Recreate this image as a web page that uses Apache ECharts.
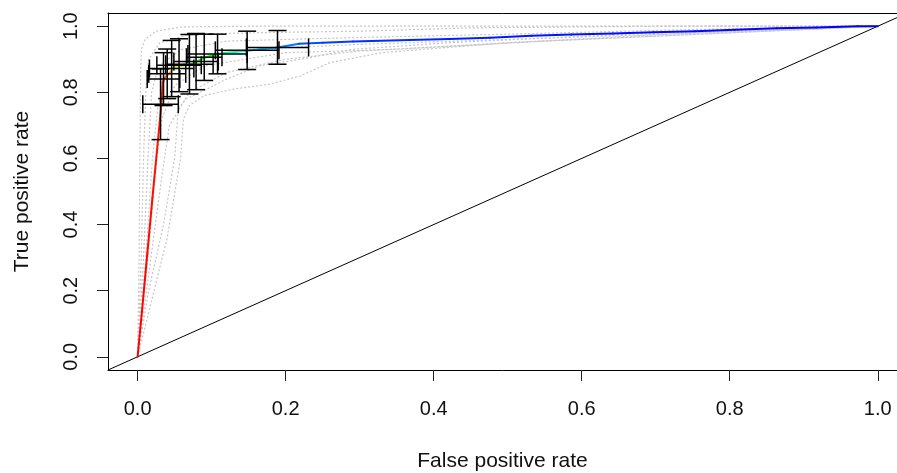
<!DOCTYPE html>
<html>
<head>
<meta charset="utf-8">
<script src="https://cdn.jsdelivr.net/npm/echarts@6/dist/echarts.min.js"></script>
<style>
  html, body { margin: 0; padding: 0; background: #fff; }
  #roc { width: 897px; height: 473px; }
</style>
</head>
<body>
<div id="roc"></div>
<script>
// axis ticks (R style, range padded by 4%; the plot is cut off at the right)
const xTicks = [0, 0.2, 0.4, 0.6, 0.8, 1.0];
const yTicks = [0, 0.2, 0.4, 0.6, 0.8, 1.0];
const xRange = [-0.04, 1.026];
const yRange = [-0.04, 1.04];

// averaged ROC curve (threshold averaging) + cutoff used for colouring
const avgFpr = [0, 0.006, 0.013, 0.02, 0.026, 0.029, 0.032, 0.034, 0.036, 0.040, 0.045, 0.047, 0.051, 0.056,
  0.070, 0.079, 0.088, 0.104, 0.120, 0.135, 0.147, 0.165, 0.187, 0.218, 0.250, 0.291, 0.367, 0.421, 0.476,
  0.532, 0.586, 0.642, 0.697, 0.753, 0.807, 0.863, 0.917, 0.973, 1.0];
const avgTpr = [0, 0.14, 0.31, 0.48, 0.62, 0.69, 0.76, 0.83, 0.842, 0.852, 0.862, 0.870, 0.876, 0.880,
  0.884, 0.892, 0.903, 0.914, 0.920, 0.923, 0.925, 0.930, 0.935, 0.947, 0.950, 0.954, 0.958, 0.961, 0.965,
  0.971, 0.975, 0.978, 0.982, 0.985, 0.989, 0.994, 0.996, 1.0, 1.0];
const avgCutoff = [1.0, 0.995, 0.99, 0.985, 0.98, 0.975, 0.97, 0.96, 0.92, 0.87, 0.82, 0.77, 0.72, 0.65,
  0.58, 0.53, 0.49, 0.42, 0.32, 0.26, 0.21, 0.17, 0.12, 0.08, 0.06, 0.045, 0.035, 0.03, 0.025,
  0.02, 0.016, 0.012, 0.009, 0.006, 0.004, 0.002, 0.001, 0.0005, 0];

// error bars (mean +/- sd) at selected cutoffs
const barFpr   = [0.031, 0.035, 0.040, 0.046, 0.056, 0.070, 0.079, 0.090, 0.108, 0.148, 0.189];
const barTpr   = [0.764, 0.840, 0.856, 0.872, 0.882, 0.885, 0.893, 0.906, 0.916, 0.927, 0.936];
const barFprSd = [0.024, 0.022, 0.025, 0.030, 0.030, 0.032, 0.030, 0.024, 0.040, 0.043, 0.042];
const barTprSd = [0.107, 0.080, 0.075, 0.085, 0.080, 0.090, 0.085, 0.070, 0.060, 0.058, 0.051];

// individual fold curves (grey dotted)
const foldCurves = [
  [[0,0],[0.002,0.3],[0.003,0.6],[0.004,0.85],[0.005,0.93],[0.01,0.96],[0.025,0.985],[0.06,0.998],[0.15,1],[1,1]],
  [[0,0],[0.005,0.3],[0.008,0.6],[0.011,0.8],[0.015,0.9],[0.03,0.95],[0.07,0.975],[0.15,0.98],[0.3,0.985],[0.45,0.995],[0.7,1],[1,1]],
  [[0,0],[0.008,0.3],[0.014,0.6],[0.019,0.8],[0.028,0.88],[0.06,0.93],[0.12,0.955],[0.3,0.966],[0.5,0.976],[0.75,0.99],[1,1]],
  [[0,0],[0.011,0.3],[0.02,0.6],[0.027,0.75],[0.038,0.85],[0.07,0.9],[0.15,0.93],[0.3,0.945],[0.5,0.96],[0.7,0.975],[0.9,0.99],[1,1]],
  [[0,0],[0.014,0.3],[0.026,0.6],[0.033,0.72],[0.05,0.82],[0.09,0.88],[0.2,0.92],[0.35,0.93],[0.55,0.955],[0.8,0.98],[1,1]],
  [[0,0],[0.018,0.3],[0.033,0.55],[0.043,0.7],[0.07,0.8],[0.12,0.86],[0.2,0.9],[0.3,0.925],[0.5,0.95],[0.75,0.975],[1,1]],
  [[0,0],[0.015,0.2],[0.035,0.4],[0.05,0.6],[0.055,0.75],[0.065,0.78],[0.085,0.8],[0.12,0.84],[0.165,0.88],[0.22,0.9],[0.29,0.93],[0.42,0.95],[0.65,0.975],[1,1]],
  [[0,0],[0.02,0.18],[0.04,0.36],[0.058,0.6],[0.062,0.72],[0.07,0.76],[0.09,0.79],[0.13,0.81],[0.18,0.825],[0.22,0.85],[0.26,0.89],[0.33,0.92],[0.5,0.95],[0.75,0.98],[1,1]]
];

// rainbow(start=0, end=4/6) like ROCR colorize: high cutoff red, low cutoff blue
function rainbow(c) {
  const h = 240 * (1 - c) / 60;
  const i = Math.floor(h) % 6, t = h - Math.floor(h);
  const up = Math.round(255 * t), down = Math.round(255 * (1 - t));
  const rgb = [[255, up, 0], [down, 255, 0], [0, 255, up], [0, down, 255], [up, 0, 255], [255, 0, down]][i];
  return 'rgb(' + rgb.join(',') + ')';
}

const font = '"Liberation Sans", Arial, sans-serif';
const chart = echarts.init(document.getElementById('roc'));

const series = foldCurves.map(curve => ({
  type: 'line',
  data: curve,
  symbol: 'none',
  silent: true,
  z: 1,
  lineStyle: { color: '#c6c6c6', width: 1.2, type: [2, 2] }
}));

// abline(0, 1) across the whole plot region
series.push({
  type: 'line',
  data: [[yRange[0], yRange[0]], [yRange[1], yRange[1]]],
  symbol: 'none',
  silent: true,
  clip: true,
  z: 2,
  lineStyle: { color: '#000', width: 1 }
});

series.push({
  type: 'custom',
  z: 3,
  silent: true,
  data: avgFpr.map((x, i) => [x, avgTpr[i], avgCutoff[i]]),
  encode: { x: 0, y: 1 },
  renderItem: (params, api) => {
    const i = params.dataIndex;
    if (i >= avgFpr.length - 1) return null;
    const p0 = api.coord([avgFpr[i], avgTpr[i]]);
    const p1 = api.coord([avgFpr[i + 1], avgTpr[i + 1]]);
    return {
      type: 'line',
      shape: { x1: p0[0], y1: p0[1], x2: p1[0], y2: p1[1] },
      style: { stroke: rainbow(avgCutoff[i]), lineWidth: 2, lineCap: 'round' }
    };
  }
});

const cap = 9;
series.push({
  type: 'custom',
  z: 4,
  silent: true,
  data: barFpr.map((x, i) => [x, barTpr[i], barFprSd[i], barTprSd[i]]),
  encode: { x: 0, y: 1 },
  renderItem: (params, api) => {
    const i = params.dataIndex;
    const lo = api.coord([barFpr[i], barTpr[i] - barTprSd[i]]);
    const hi = api.coord([barFpr[i], barTpr[i] + barTprSd[i]]);
    const le = api.coord([barFpr[i] - barFprSd[i], barTpr[i]]);
    const ri = api.coord([barFpr[i] + barFprSd[i], barTpr[i]]);
    const st = { stroke: '#000', lineWidth: 1.5 };
    const seg = (x1, y1, x2, y2) => ({ type: 'line', shape: { x1, y1, x2, y2 }, style: st });
    return {
      type: 'group',
      children: [
        seg(lo[0], lo[1], hi[0], hi[1]),
        seg(lo[0] - cap, lo[1], lo[0] + cap, lo[1]),
        seg(hi[0] - cap, hi[1], hi[0] + cap, hi[1]),
        seg(le[0], le[1], ri[0], ri[1]),
        seg(le[0], le[1] - cap, le[0], le[1] + cap),
        seg(ri[0], ri[1] - cap, ri[0], ri[1] + cap)
      ]
    };
  }
});

chart.setOption({
  animation: false,
  backgroundColor: '#fff',
  grid: { left: 108, right: 0, top: 13, bottom: 103, outerBoundsMode: 'none', containLabel: false },
  xAxis: [{
    type: 'value',
    min: xRange[0],
    max: xRange[1],
    name: 'False positive rate',
    nameLocation: 'middle',
    nameGap: 81,
    nameTextStyle: { fontSize: 21, color: '#111', fontFamily: font },
    axisLine: { show: true, onZero: false, lineStyle: { color: '#000' } },
    axisTick: { show: true, customValues: xTicks, length: 11, lineStyle: { color: '#222' } },
    axisLabel: { customValues: xTicks, formatter: v => v.toFixed(1), fontSize: 20, color: '#111', fontFamily: font, margin: 29 },
    splitLine: { show: false }
  }, {
    // top edge of the plot box
    type: 'value',
    position: 'top',
    min: xRange[0],
    max: xRange[1],
    axisLine: { show: true, onZero: false, lineStyle: { color: '#000' } },
    axisTick: { show: false },
    axisLabel: { show: false },
    splitLine: { show: false }
  }],
  yAxis: {
    type: 'value',
    min: yRange[0],
    max: yRange[1],
    name: 'True positive rate',
    nameLocation: 'middle',
    nameGap: 75,
    nameTextStyle: { fontSize: 21, color: '#111', fontFamily: font },
    axisLine: { show: true, onZero: false, lineStyle: { color: '#000' } },
    axisTick: { show: true, customValues: yTicks, length: 11, lineStyle: { color: '#222' } },
    axisLabel: { customValues: yTicks, formatter: v => v.toFixed(1), rotate: 90, fontSize: 20, color: '#111', fontFamily: font, margin: 27 },
    splitLine: { show: false }
  },
  series: series
});
</script>
</body>
</html>
